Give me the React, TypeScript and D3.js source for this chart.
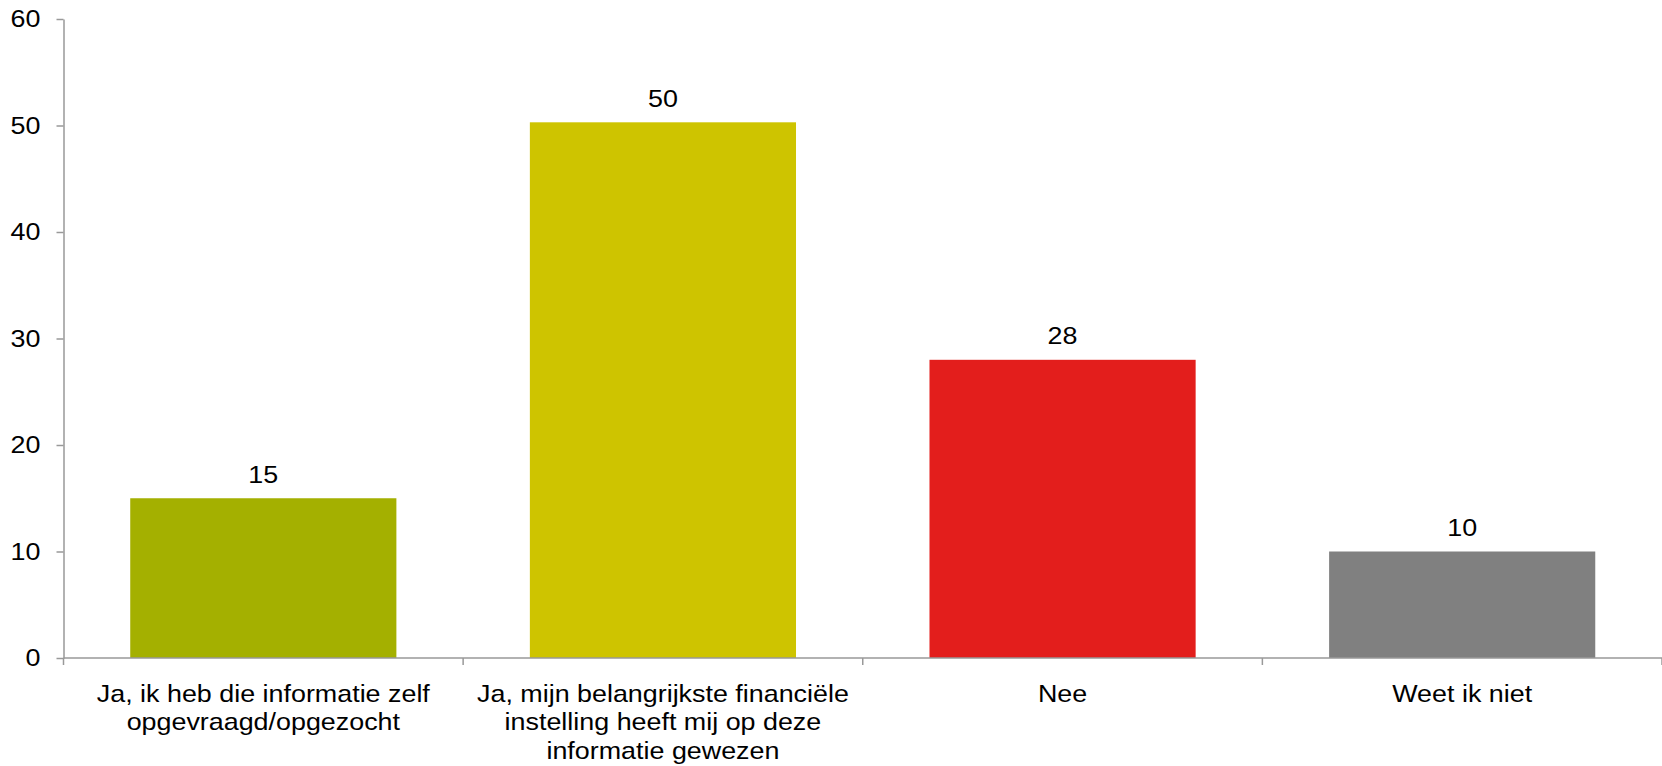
import React, { useEffect, useRef } from "react"
import * as d3 from "d3"

const categories = [
  "Ja, ik heb die informatie zelf opgevraagd/opgezocht",
  "Ja, mijn belangrijkste financiële instelling heeft mij op deze informatie gewezen",
  "Nee",
  "Weet ik niet",
]
const values = [15, 50.3, 28, 10]
const barColors = ["#A4B000", "#CEC400", "#E31E1C", "#808080"]
const yTicks = [0, 10, 20, 30, 40, 50, 60]

const width = 1662
const height = 766
const margin = { top: 19, right: 0, bottom: 108, left: 63.5 }
const font = "'Liberation Sans', Arial, sans-serif"
// the reference text is a bit wider than Arial, stretch it horizontally
const sx = 1.12

function wrap(texts: any, maxWidth: number) {
  texts.each(function (this: SVGTextElement) {
    const text = d3.select(this)
    const words = text.text().split(/\s+/)
    const y = text.attr("y")
    text.text(null)
    let line: string[] = []
    let lineNo = 0
    let tspan = text.append("tspan").attr("x", 0).attr("y", y).attr("dy", "0.71em")
    for (const w of words) {
      line.push(w)
      tspan.text(line.join(" "))
      if ((tspan.node() as SVGTSpanElement).getComputedTextLength() > maxWidth && line.length > 1) {
        line.pop()
        tspan.text(line.join(" "))
        line = [w]
        lineNo++
        tspan = text
          .append("tspan")
          .attr("x", 0)
          .attr("y", y)
          .attr("dy", lineNo * 1.2 + 0.71 + "em")
          .text(w)
      }
    }
  })
}

export default function App() {
  const ref = useRef<SVGSVGElement>(null)

  useEffect(() => {
    const svg = d3.select(ref.current)
    svg.selectAll("*").remove()

    const x = d3
      .scaleBand()
      .domain(categories)
      .range([margin.left, width - margin.right])
      .paddingInner(0.334)
      .paddingOuter(0.167)

    const y = d3
      .scaleLinear()
      .domain([0, 60])
      .range([height - margin.bottom, margin.top])

    // bars
    svg
      .append("g")
      .selectAll("rect")
      .data(values)
      .enter()
      .append("rect")
      .attr("x", (d, i) => x(categories[i])!)
      .attr("y", (d) => y(d))
      .attr("width", x.bandwidth())
      .attr("height", (d) => y(0) - y(d))
      .attr("fill", (d, i) => barColors[i])

    // value labels
    svg
      .append("g")
      .selectAll("text")
      .data(values)
      .enter()
      .append("text")
      .attr(
        "transform",
        (d, i) =>
          "translate(" + (x(categories[i])! + x.bandwidth() / 2) + "," + (y(d) - 15.5) + ") scale(" + sx + ",1)"
      )
      .attr("text-anchor", "middle")
      .style("font-family", font)
      .style("font-size", "24px")
      .attr("fill", "#000")
      .text((d) => Math.round(d))

    // y axis
    const yAxis = svg
      .append("g")
      .attr("transform", "translate(" + margin.left + ",0)")
      .call(d3.axisLeft(y).tickValues(yTicks).tickSize(7).tickPadding(16).tickSizeOuter(0))
    yAxis.select(".domain").attr("stroke", "#999").attr("stroke-width", 1.5)
    yAxis.selectAll(".tick line").attr("stroke", "#999").attr("stroke-width", 1.5)
    yAxis
      .selectAll(".tick text")
      .attr("x", -23 / sx)
      .attr("transform", "scale(" + sx + ",1)")
      .style("font-family", font)
      .style("font-size", "24px")
      .attr("fill", "#000")

    // x axis: ticks on band boundaries
    const xAxisG = svg.append("g").attr("transform", "translate(0," + y(0) + ")")
    xAxisG
      .append("line")
      .attr("x1", margin.left)
      .attr("x2", width - margin.right)
      .attr("stroke", "#999")
      .attr("stroke-width", 1.5)
    const step = x.step()
    xAxisG
      .selectAll("line.tick")
      .data(d3.range(categories.length + 1))
      .enter()
      .append("line")
      .attr("class", "tick")
      .attr("x1", (i) => margin.left + i * step)
      .attr("x2", (i) => margin.left + i * step)
      .attr("y1", 0)
      .attr("y2", 7)
      .attr("stroke", "#999")
      .attr("stroke-width", 1.5)

    xAxisG
      .selectAll("g.label")
      .data(categories)
      .enter()
      .append("g")
      .attr("class", "label")
      .attr("transform", (d) => "translate(" + (x(d)! + x.bandwidth() / 2) + ",0) scale(" + sx + ",1)")
      .append("text")
      .attr("y", 26.5)
      .attr("text-anchor", "middle")
      .style("font-family", font)
      .style("font-size", "24px")
      .attr("fill", "#000")
      .text((d) => d)
      .call(wrap, 385 / sx)
  }, [])

  return (
    <svg
      ref={ref}
      width={width}
      height={height}
      style={{ position: "absolute", left: 0, top: 0, background: "#fff" }}
    ></svg>
  )
}
